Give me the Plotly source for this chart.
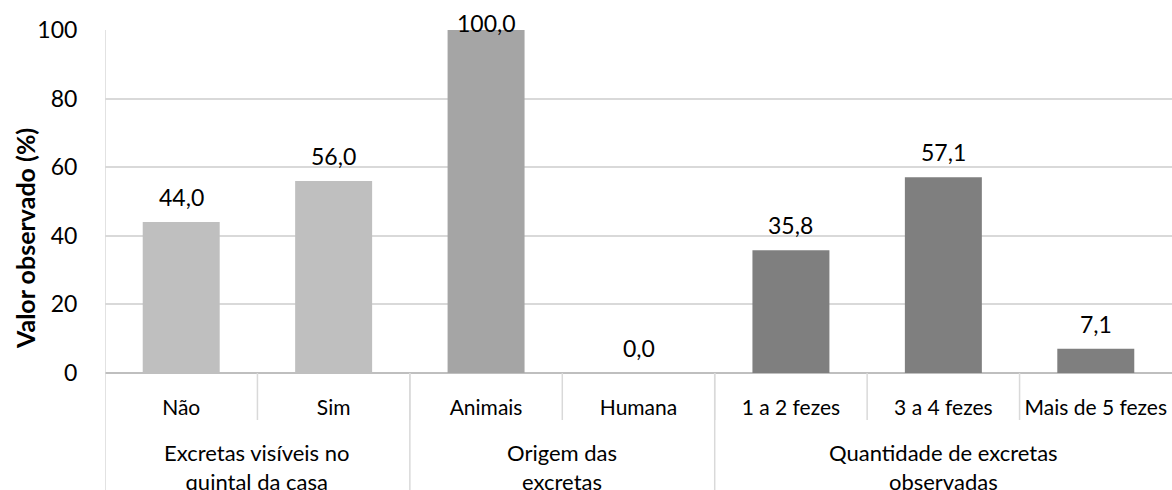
import plotly.graph_objects as go

# ---- data ----
groups = ["Excretas visíveis no<br>quintal da casa", "Origem das<br>excretas", "Quantidade de excretas<br>observadas"]
group_sizes = [2, 2, 3]
categories = ["Não", "Sim", "Animais", "Humana", "1 a 2 fezes", "3 a 4 fezes", "Mais de 5 fezes"]
values = [44.0, 56.0, 100.0, 0.0, 35.8, 57.1, 7.1]
labels = ["44,0", "56,0", "100,0", "0,0", "35,8", "57,1", "7,1"]
group_colors = ["#BFBFBF", "#A5A5A5", "#7F7F7F"]
y_ticks = [0, 20, 40, 60, 80, 100]
y_title = "Valor observado (%)"

# ---- layout constants ----
W, H = 1172, 490
ML, MR, MT, MB = 105, 0, 30, 117
PH = H - MT - MB
PW = W - ML - MR
FONT = "Lato, Carlito, Calibri, sans-serif"
YMAX = 100

bar_colors = []
for g, n in enumerate(group_sizes):
    bar_colors += [group_colors[g]] * n

fig = go.Figure()
fig.add_trace(go.Bar(x=categories, y=values, marker=dict(color=bar_colors, line=dict(width=0)),
                     hoverinfo="skip", showlegend=False))

# data labels
for c, v, t in zip(categories, values, labels):
    shift = 25
    top_px = MT + (YMAX - v) / YMAX * PH - shift
    if top_px < 23:
        shift -= (23 - top_px)
    fig.add_annotation(x=c, y=v, xref="x", yref="y", text=t, showarrow=False,
                       yshift=shift, yanchor="middle",
                       font=dict(family=FONT, size=23, color="#000000"))

# separators
line_col = "#D9D9D9"
n = len(categories)
for i in range(n - 1):
    fig.add_shape(type="line", xref="x", yref="paper", x0=i + 0.5, x1=i + 0.5,
                  y0=0, y1=-47 / PH, line=dict(color=line_col, width=1.5))
start = 0
bounds = [-0.5]
for s in group_sizes:
    start += s
    bounds.append(start - 0.5)
for b in bounds[:-1]:
    fig.add_shape(type="line", xref="x", yref="paper", x0=b, x1=b,
                  y0=1 if b == -0.5 else 0, y1=-MB / PH, line=dict(color=line_col, width=1.5))

# group labels
start = 0
for gname, s in zip(groups, group_sizes):
    center = start + (s - 1) / 2
    fig.add_annotation(x=center, y=-(437 - (MT + PH)) / PH, xref="x", yref="paper",
                       text=gname, showarrow=False, yanchor="top", align="center",
                       font=dict(family=FONT, size=22, color="#000000"))
    start += s

# y axis title (centred on the whole chart height, like the original)
fig.add_annotation(x=(25 - ML) / PW, y=(MT + PH - 239) / PH, xref="paper", yref="paper",
                   text="<b>" + y_title + "</b>", textangle=-90, showarrow=False,
                   xanchor="center", yanchor="middle",
                   font=dict(family=FONT, size=25, color="#000000"))

fig.update_layout(
    width=W, height=H,
    margin=dict(l=ML, r=MR, t=MT, b=MB, pad=0),
    paper_bgcolor="white", plot_bgcolor="white",
    bargap=0.495,
    font=dict(family=FONT, color="#000000"),
)
fig.update_xaxes(type="category", showgrid=False, showline=False, zeroline=False,
                 ticks="outside", ticklen=16, tickcolor="rgba(0,0,0,0)",
                 tickfont=dict(family=FONT, size=21, color="#000000"),
                 range=[-0.5, n - 0.5])
fig.update_yaxes(range=[0, YMAX], tickvals=y_ticks, showgrid=True, gridcolor="#D9D9D9", gridwidth=1.5,
                 zeroline=True, zerolinecolor="#BFBFBF", zerolinewidth=1.5,
                 showline=False, ticks="outside", ticklen=22, tickcolor="rgba(0,0,0,0)",
                 tickfont=dict(family=FONT, size=23, color="#000000"))

fig.write_html("out.html", config={"displayModeBar": False},
               post_script="document.body.style.margin='0';document.body.style.overflow='hidden';")
